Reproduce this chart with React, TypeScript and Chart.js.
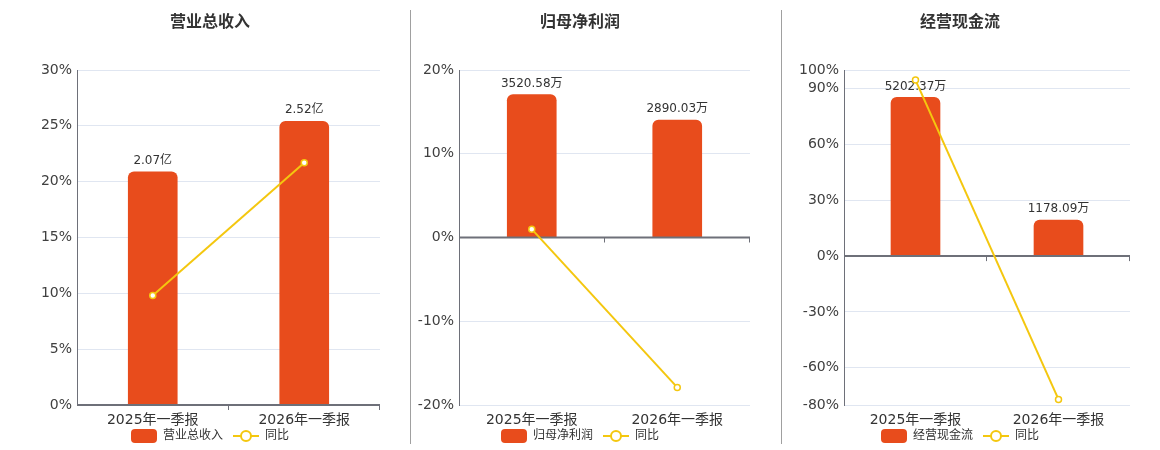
import React, { useEffect, useRef } from "react";
import { Chart, registerables } from "chart.js";

Chart.register(...registerables);

// ---------- data ----------
const categories = ["2025年一季报", "2026年一季报"];

const titles = ["营业总收入", "归母净利润", "经营现金流"];
const barNames = ["营业总收入", "归母净利润", "经营现金流"];
const lineName = "同比";

const revenueValues = [2.07, 2.52]; // 亿
const revenueYoY = [9.8, 21.7]; // %
const profitValues = [3520.58, 2890.03]; // 万
const profitYoY = [1.0, -17.9]; // %
const cashValues = [5202.37, 1178.09]; // 万
const cashYoY = [94.6, -77.0]; // %

const units = ["亿", "万", "万"];

const revenueTicks = [0, 5, 10, 15, 20, 25, 30];
const profitTicks = [-20, -10, 0, 10, 20];
const cashTicks = [-80, -60, -30, 0, 30, 60, 90, 100];

// ---------- styles ----------
const FONT = "'DejaVu Sans', 'Noto Sans CJK SC', sans-serif";
const BAR_COLOR = "#e84c1c";
const LINE_COLOR = "#f4c70f";
const AXIS_COLOR = "#6e7079";
const GRID_COLOR = "#e0e6f1";
const TEXT_COLOR = "#333";

type PanelCfg = {
  left: number;
  width: number;
  yAxisWidth: number;
  rightWidth: number;
  title: string;
  barName: string;
  bars: number[];
  yoy: number[];
  unit: string;
  ticks: number[];
  barMin: number;
  barMax: number;
};

const panels: PanelCfg[] = [
  {
    left: 0, width: 420, yAxisWidth: 77, rightWidth: 40,
    title: titles[0], barName: barNames[0], bars: revenueValues, yoy: revenueYoY,
    unit: units[0], ticks: revenueTicks, barMin: 0, barMax: 2.975,
  },
  {
    left: 410, width: 340, yAxisWidth: 49, rightWidth: 0,
    title: titles[1], barName: barNames[1], bars: profitValues, yoy: profitYoY,
    unit: units[1], ticks: profitTicks, barMin: -4124, barMax: 4124,
  },
  {
    left: 790, width: 340, yAxisWidth: 54, rightWidth: 0,
    title: titles[2], barName: barNames[2], bars: cashValues, yoy: cashYoY,
    unit: units[2], ticks: cashTicks, barMin: -4880, barMax: 6100,
  },
];

const CANVAS_H = 452;

function makeBarIcon(): HTMLCanvasElement {
  const c = document.createElement("canvas");
  c.width = 26;
  c.height = 14;
  const ctx = c.getContext("2d")!;
  ctx.fillStyle = BAR_COLOR;
  const r = 4;
  ctx.beginPath();
  ctx.moveTo(r, 0);
  ctx.lineTo(26 - r, 0);
  ctx.quadraticCurveTo(26, 0, 26, r);
  ctx.lineTo(26, 14 - r);
  ctx.quadraticCurveTo(26, 14, 26 - r, 14);
  ctx.lineTo(r, 14);
  ctx.quadraticCurveTo(0, 14, 0, 14 - r);
  ctx.lineTo(0, r);
  ctx.quadraticCurveTo(0, 0, r, 0);
  ctx.fill();
  return c;
}

function makeLineIcon(): HTMLCanvasElement {
  const c = document.createElement("canvas");
  c.width = 26;
  c.height = 14;
  const ctx = c.getContext("2d")!;
  ctx.strokeStyle = LINE_COLOR;
  ctx.lineWidth = 2;
  ctx.beginPath();
  ctx.moveTo(0, 7);
  ctx.lineTo(26, 7);
  ctx.stroke();
  ctx.beginPath();
  ctx.arc(13, 7, 5, 0, Math.PI * 2);
  ctx.fillStyle = "#fff";
  ctx.fill();
  ctx.stroke();
  return c;
}

function ChartPanel({ cfg }: { cfg: PanelCfg }) {
  const ref = useRef<HTMLCanvasElement | null>(null);

  useEffect(() => {
    if (!ref.current) return;
    const barIcon = makeBarIcon();
    const lineIcon = makeLineIcon();

    const axisAndLabels = {
      id: "axisAndLabels",
      afterDatasetDraw(chart: any, args: any) {
        if (args.index !== 0) return;
        const ctx = chart.ctx;
        const area = chart.chartArea;
        const yScale = chart.scales.y;
        const xScale = chart.scales.x;
        const y0 = yScale.getPixelForValue(0);
        ctx.save();
        ctx.strokeStyle = AXIS_COLOR;
        ctx.lineWidth = 2;
        ctx.beginPath();
        ctx.moveTo(area.left, y0);
        ctx.lineTo(area.right, y0);
        ctx.stroke();
        // category boundary ticks
        ctx.lineWidth = 1;
        const n = categories.length;
        for (let i = 1; i <= n; i++) {
          const px = i < n
            ? (xScale.getPixelForValue(i - 1) + xScale.getPixelForValue(i)) / 2
            : area.right;
          const xx = Math.round(px) - 0.5;
          ctx.beginPath();
          ctx.moveTo(xx, y0);
          ctx.lineTo(xx, y0 + 5);
          ctx.stroke();
        }
        // value labels above bars
        const meta = chart.getDatasetMeta(0);
        ctx.fillStyle = TEXT_COLOR;
        ctx.font = `12px ${FONT}`;
        ctx.textAlign = "center";
        ctx.textBaseline = "bottom";
        meta.data.forEach((el: any, i: number) => {
          const v = cfg.bars[i];
          ctx.fillText(v.toFixed(2) + cfg.unit, el.x, el.y - 5);
        });
        ctx.restore();
      },
      afterDraw(chart: any) {
        const ctx = chart.ctx;
        const area = chart.chartArea;
        const xScale = chart.scales.x;
        ctx.save();
        ctx.fillStyle = TEXT_COLOR;
        ctx.font = `14px ${FONT}`;
        ctx.textAlign = "center";
        ctx.textBaseline = "middle";
        categories.forEach((c, i) => {
          ctx.fillText(c, xScale.getPixelForValue(i), area.bottom + 15.5);
        });
        ctx.restore();
      },
    };

    const chart = new Chart(ref.current, {
      type: "bar",
      data: {
        labels: categories,
        datasets: [
          {
            type: "bar",
            label: cfg.barName,
            data: cfg.bars,
            yAxisID: "y1",
            backgroundColor: BAR_COLOR,
            borderRadius: 6,
            barThickness: 49,
            order: 1,
          } as any,
          {
            type: "line",
            label: lineName,
            data: cfg.yoy,
            yAxisID: "y",
            borderColor: LINE_COLOR,
            borderWidth: 2,
            pointRadius: 3,
            pointBorderWidth: 1.5,
            pointBackgroundColor: "#fff",
            pointBorderColor: LINE_COLOR,
            tension: 0,
            order: 0,
          } as any,
        ],
      },
      options: {
        responsive: false,
        animation: false,
        devicePixelRatio: 1,
        layout: { padding: 0, autoPadding: false },
        plugins: {
          tooltip: { enabled: false },
          title: {
            display: true,
            text: cfg.title,
            color: TEXT_COLOR,
            font: { family: FONT, size: 16, weight: "bold" },
            padding: { top: 13, bottom: 37.8 },
          },
          legend: {
            display: true,
            position: "bottom",
            labels: {
              usePointStyle: true,
              pointStyleWidth: 26,
              padding: 10,
              color: TEXT_COLOR,
              font: { family: FONT, size: 12 },
              sort: (a: any, b: any) => a.datasetIndex - b.datasetIndex,
              generateLabels: (ch: any) => {
                const items = (Chart.defaults.plugins.legend.labels as any).generateLabels(ch);
                return items.map((it: any) => ({
                  ...it,
                  pointStyle: it.datasetIndex === 0 ? barIcon : lineIcon,
                  fontColor: TEXT_COLOR,
                }));
              },
            },
          },
        },
        scales: {
          x: {
            type: "category",
            grid: { display: false },
            border: { display: false },
            ticks: { display: false },
            afterFit: (axis: any) => {
              axis.height = 15;
              axis.paddingLeft = 0;
              axis.paddingRight = 0;
            },
          },
          y: {
            type: "linear",
            position: "left",
            min: cfg.ticks[0],
            max: cfg.ticks[cfg.ticks.length - 1],
            afterBuildTicks: (axis: any) => {
              axis.ticks = cfg.ticks.map((v) => ({ value: v }));
            },
            afterFit: (axis: any) => {
              axis.width = cfg.yAxisWidth;
            },
            grid: { color: GRID_COLOR, drawTicks: false, lineWidth: 1 },
            border: { display: true, color: AXIS_COLOR, width: 1 },
            ticks: {
              color: "#404040",
              font: { family: FONT, size: 14 },
              padding: 5,
              callback: (v: any) => `${v}%`,
            },
          },
          y1: {
            type: "linear",
            position: "right",
            display: cfg.rightWidth > 0,
            min: cfg.barMin,
            max: cfg.barMax,
            grid: { display: false },
            border: { display: false },
            ticks: { display: false },
            afterFit: (axis: any) => {
              axis.width = cfg.rightWidth;
            },
          },
        },
      } as any,
      plugins: [axisAndLabels],
    });
    return () => chart.destroy();
  }, [cfg]);

  return (
    <canvas
      ref={ref}
      width={cfg.width}
      height={CANVAS_H}
      style={{ position: "absolute", left: cfg.left, top: 0, width: cfg.width, height: CANVAS_H }}
    />
  );
}

export default function App() {
  return (
    <div
      style={{
        position: "absolute",
        left: 0,
        top: 0,
        width: 1160,
        height: 450,
        overflow: "hidden",
        background: "#fff",
      }}
    >
      {panels.map((p, i) => (
        <ChartPanel key={i} cfg={p} />
      ))}
      <div style={{ position: "absolute", left: 410, top: 10, width: 1, height: 434, background: "#a0a0a0" }} />
      <div style={{ position: "absolute", left: 781, top: 10, width: 1, height: 434, background: "#a0a0a0" }} />
    </div>
  );
}
